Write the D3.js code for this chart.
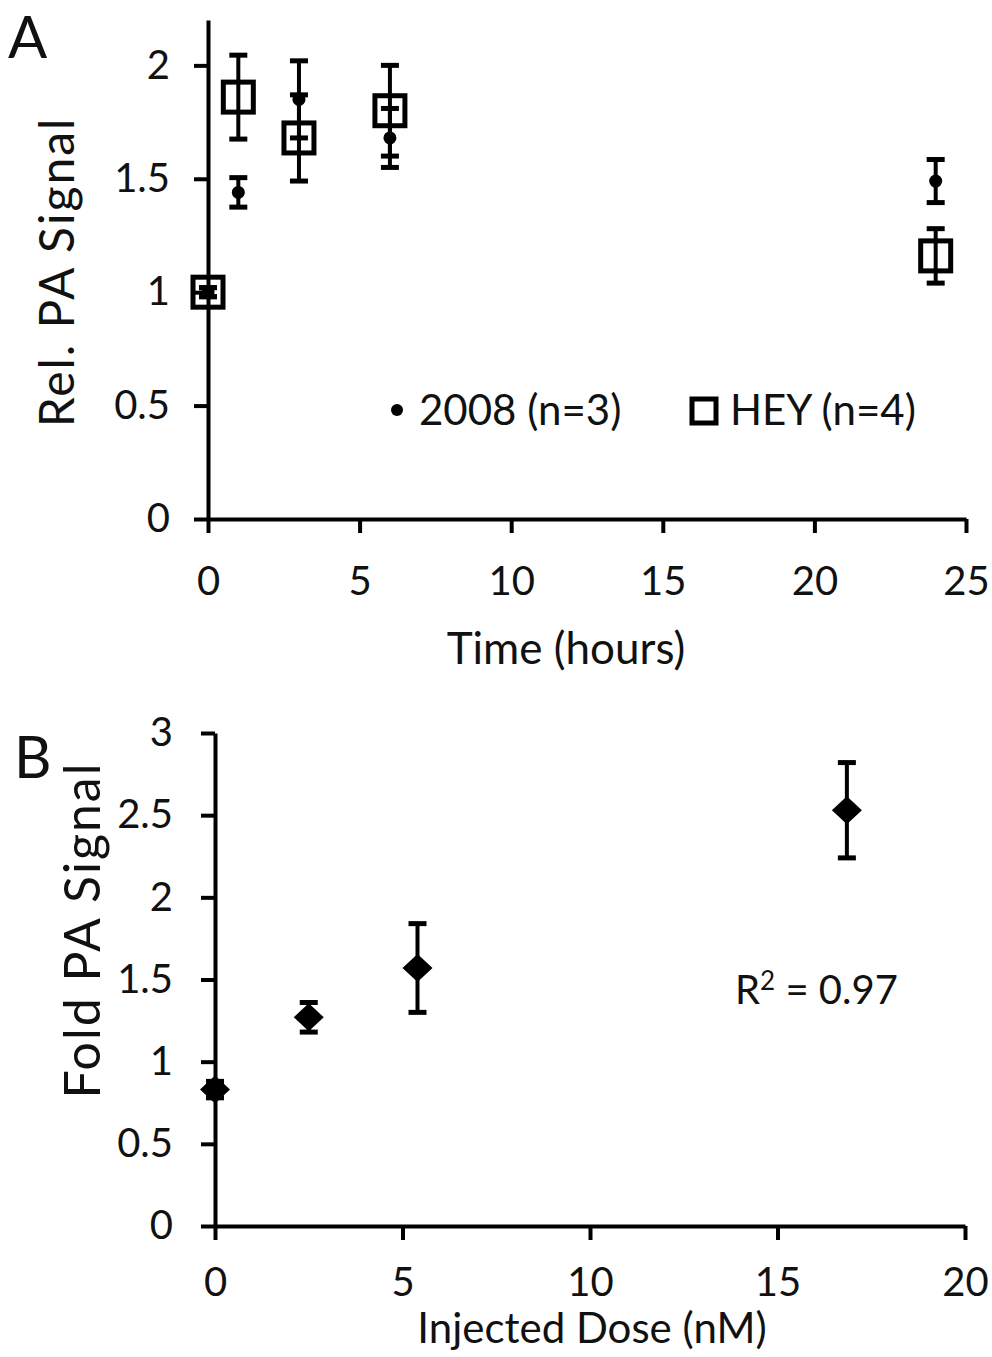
<!DOCTYPE html>
<html>
<head>
<meta charset="utf-8">
<script src="https://cdn.jsdelivr.net/npm/d3@7"></script>
<style>
  body { margin: 0; background: #fff; }
  text { font-family: Lato, "Open Sans", sans-serif; fill: #111; }
</style>
</head>
<body>
<div id="chart"></div>
<script>
// panel A - time course
var hours = [0, 1, 3, 6, 24];
var sig2008 = [1.0, 1.44, 1.85, 1.68, 1.49];
var err2008 = [0.02, 0.065, 0.17, 0.13, 0.095];
var sigHEY = [1.0, 1.86, 1.68, 1.80, 1.16];
var errHEY = [0.02, 0.185, 0.19, 0.20, 0.12];
var ticksA_y = [0, 0.5, 1, 1.5, 2];
var ticksA_x = [0, 5, 10, 15, 20, 25];

// panel B - dose response
var dose = [0, 2.5, 5.4, 16.85];
var fold = [0.83, 1.27, 1.57, 2.53];
var foldErr = [0.05, 0.09, 0.27, 0.29];
var ticksB_y = [0, 0.5, 1, 1.5, 2, 2.5, 3];
var ticksB_x = [0, 5, 10, 15, 20];

var W = 992, H = 1357;
var svg = d3.select("#chart").append("svg")
    .attr("width", W)
    .attr("height", H);

svg.append("rect").attr("width", W).attr("height", H).attr("fill", "#fff");

var fmt = d3.format("~g");

function styleAxis(g) {
    g.select(".domain").attr("stroke", "#000").attr("stroke-width", 4);
    g.selectAll(".tick line").attr("stroke", "#000").attr("stroke-width", 4);
    g.selectAll(".tick text").style("font-size", "40px").attr("fill", "#111");
}

function errorBars(g, data, x, y, cap) {
    g.selectAll(null)
        .data(data)
        .enter().append("g")
        .each(function(d) {
            var s = d3.select(this);
            var cx = x(d.x), y1 = y(d.v + d.e), y2 = y(d.v - d.e);
            s.append("line").attr("x1", cx).attr("x2", cx).attr("y1", y1).attr("y2", y2)
                .attr("stroke", "#000").attr("stroke-width", 4);
            s.append("line").attr("x1", cx - cap).attr("x2", cx + cap).attr("y1", y1).attr("y2", y1)
                .attr("stroke", "#000").attr("stroke-width", 5);
            s.append("line").attr("x1", cx - cap).attr("x2", cx + cap).attr("y1", y2).attr("y2", y2)
                .attr("stroke", "#000").attr("stroke-width", 5);
        });
}

// ---------- Panel A ----------
var xA = d3.scaleLinear().domain([0, 25]).range([208, 966]);
var yA = d3.scaleLinear().domain([0, 2.2]).range([519, 20]);

var gA = svg.append("g");

gA.append("g")
    .attr("transform", "translate(0," + yA(0) + ")")
    .call(d3.axisBottom(xA).tickValues(ticksA_x).tickFormat(fmt).tickSize(14).tickSizeOuter(0).tickPadding(34))
    .call(styleAxis);

gA.append("g")
    .attr("transform", "translate(" + xA(0) + ",0)")
    .call(d3.axisLeft(yA).tickValues(ticksA_y).tickFormat(fmt).tickSize(14).tickSizeOuter(0).tickPadding(24))
    .call(styleAxis);

var a2008 = hours.map((h, i) => ({x: h, v: sig2008[i], e: err2008[i]}));
var aHEY = hours.map((h, i) => ({x: h, v: sigHEY[i], e: errHEY[i]}));

errorBars(gA.append("g"), aHEY, xA, yA, 9);
errorBars(gA.append("g"), a2008, xA, yA, 9);

gA.selectAll(".sq")
    .data(aHEY)
    .enter().append("rect")
    .attr("class", "sq")
    .attr("x", d => xA(d.x) - 15)
    .attr("y", d => yA(d.v) - 15)
    .attr("width", 30)
    .attr("height", 30)
    .attr("fill", "none")
    .attr("stroke", "#000")
    .attr("stroke-width", 5);

gA.selectAll(".dot")
    .data(a2008)
    .enter().append("circle")
    .attr("class", "dot")
    .attr("cx", d => xA(d.x))
    .attr("cy", d => yA(d.v))
    .attr("r", 6.5)
    .attr("fill", "#000");

// legend
gA.append("circle").attr("cx", 397).attr("cy", 410).attr("r", 6).attr("fill", "#000");
gA.append("text").attr("x", 419).attr("y", 425).style("font-size", "42px").text("2008 (n=3)");
gA.append("rect").attr("x", 692).attr("y", 399).attr("width", 24).attr("height", 24)
    .attr("fill", "none").attr("stroke", "#000").attr("stroke-width", 5);
gA.append("text").attr("x", 730).attr("y", 425).style("font-size", "42px").text("HEY (n=4)");

gA.append("text")
    .attr("x", 566).attr("y", 664)
    .attr("text-anchor", "middle")
    .style("font-size", "44px")
    .text("Time (hours)");

gA.append("text")
    .attr("transform", "translate(74,272) rotate(-90)")
    .attr("text-anchor", "middle")
    .style("font-size", "48px")
    .style("letter-spacing", "2px")
    .text("Rel. PA Signal");

gA.append("text").attr("x", 8).attr("y", 58).style("font-size", "58px").text("A");

// ---------- Panel B ----------
var xB = d3.scaleLinear().domain([0, 20]).range([215, 965]);
var yB = d3.scaleLinear().domain([0, 3]).range([1226, 733]);

var gB = svg.append("g");

gB.append("g")
    .attr("transform", "translate(0," + yB(0) + ")")
    .call(d3.axisBottom(xB).tickValues(ticksB_x).tickFormat(fmt).tickSize(14).tickSizeOuter(0).tickPadding(28))
    .call(styleAxis);

gB.append("g")
    .attr("transform", "translate(" + xB(0) + ",0)")
    .call(d3.axisLeft(yB).tickValues(ticksB_y).tickFormat(fmt).tickSize(14).tickSizeOuter(0).tickPadding(28))
    .call(styleAxis);

var bData = dose.map((d, i) => ({x: d, v: fold[i], e: foldErr[i]}));

errorBars(gB.append("g"), bData, xB, yB, 9);

gB.selectAll(".dia")
    .data(bData)
    .enter().append("path")
    .attr("class", "dia")
    .attr("d", d => {
        var cx = xB(d.x), cy = yB(d.v);
        return "M" + (cx - 15) + "," + cy + "L" + cx + "," + (cy - 14) +
            "L" + (cx + 15) + "," + cy + "L" + cx + "," + (cy + 14) + "Z";
    })
    .attr("fill", "#000");

var r2 = gB.append("text").attr("x", 735).attr("y", 1004).style("font-size", "40px");
r2.append("tspan").text("R");
r2.append("tspan").attr("dy", -14).style("font-size", "26px").text("2");
r2.append("tspan").attr("dy", 14).text(" = 0.97");

gB.append("text")
    .attr("x", 592).attr("y", 1343)
    .attr("text-anchor", "middle")
    .style("font-size", "42px")
    .text("Injected Dose (nM)");

gB.append("text")
    .attr("transform", "translate(100,930) rotate(-90)")
    .attr("text-anchor", "middle")
    .style("font-size", "50px")
    .style("letter-spacing", "2px")
    .text("Fold PA Signal");

gB.append("text").attr("x", 14).attr("y", 778).style("font-size", "58px").text("B");
</script>
</body>
</html>
